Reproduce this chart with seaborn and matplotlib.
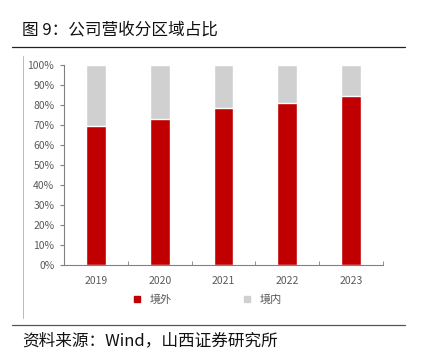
import matplotlib
matplotlib.use("Agg")
import matplotlib.pyplot as plt
from matplotlib.lines import Line2D
from matplotlib.ticker import PercentFormatter
import pandas as pd
import seaborn as sns

years = ["2019", "2020", "2021", "2022", "2023"]
overseas = [69.5, 73.0, 78.5, 81.0, 84.5]   # 境外
domestic = [100 - v for v in overseas]        # 境内
total = [a + b for a, b in zip(overseas, domestic)]

sns.set_style("white")
plt.rcParams["font.family"] = ["Noto Sans CJK SC", "DejaVu Sans"]

df = pd.DataFrame({"year": years, "overseas": overseas, "total": total})

fig = plt.figure(figsize=(4.22, 3.56), dpi=100)
ax = fig.add_axes([64 / 422, 1 - 265 / 356, 319 / 422, 200 / 356])

red = "#C00000"
gray = "#D0D0D0"
sns.barplot(data=df, x="year", y="total", color=gray, width=0.31,
            saturation=1, ax=ax, label="境内")
sns.barplot(data=df, x="year", y="overseas", color=red, width=0.31,
            saturation=1, ax=ax, label="境外")

ax.set_xlim(-0.5, 4.5)
ax.set_ylim(0, 100)
ax.set_yticks(range(0, 101, 10))
ax.yaxis.set_major_formatter(PercentFormatter(decimals=0))
ax.set_xlabel("")
ax.set_ylabel("")
for s in ["top", "right"]:
    ax.spines[s].set_visible(False)
for s in ["left", "bottom"]:
    ax.spines[s].set_color("#808080")
    ax.spines[s].set_linewidth(0.8)
ax.tick_params(axis="y", labelsize=7.5, colors="#595959", length=3,
               direction="out", left=True, color="#808080", pad=4)
ax.tick_params(axis="x", labelsize=7.5, colors="#595959", length=0, pad=8)
# category separator ticks, excel style
ax.set_xticks([0.5, 1.5, 2.5, 3.5, 4.5], minor=True)
ax.tick_params(axis="x", which="minor", length=3, direction="in",
               color="#808080", bottom=True)
if ax.get_legend():
    ax.get_legend().remove()

handles = [Line2D([], [], marker="s", color=red, linestyle="", markersize=5),
           Line2D([], [], marker="s", color=gray, linestyle="", markersize=5)]
fig.legend(handles, ["境外", "境内"], loc="center", ncol=2,
           bbox_to_anchor=(0.483, 1 - 300 / 356), frameon=False,
           fontsize=8, labelcolor="#595959", handletextpad=0.2,
           columnspacing=5.7)

fig.text(22 / 422, 1 - 30 / 356, "图 9：公司营收分区域占比", fontsize=12,
         va="center", ha="left", color="#111111")
fig.add_artist(Line2D([12 / 422, 405 / 422], [1 - 47 / 356] * 2,
                      color="#222222", linewidth=0.9))
fig.add_artist(Line2D([23 / 422, 23 / 422], [1 - 56 / 356, 1 - 318 / 356],
                      color="#B0B0B0", linewidth=0.6))
fig.add_artist(Line2D([12 / 422, 405 / 422], [1 - 325 / 356] * 2,
                      color="#555555", linewidth=0.9))
fig.text(22 / 422, 1 - 341 / 356, "资料来源：Wind，山西证券研究所",
         fontsize=12, va="center", ha="left", color="#111111")

fig.savefig("out.png", dpi=100)
